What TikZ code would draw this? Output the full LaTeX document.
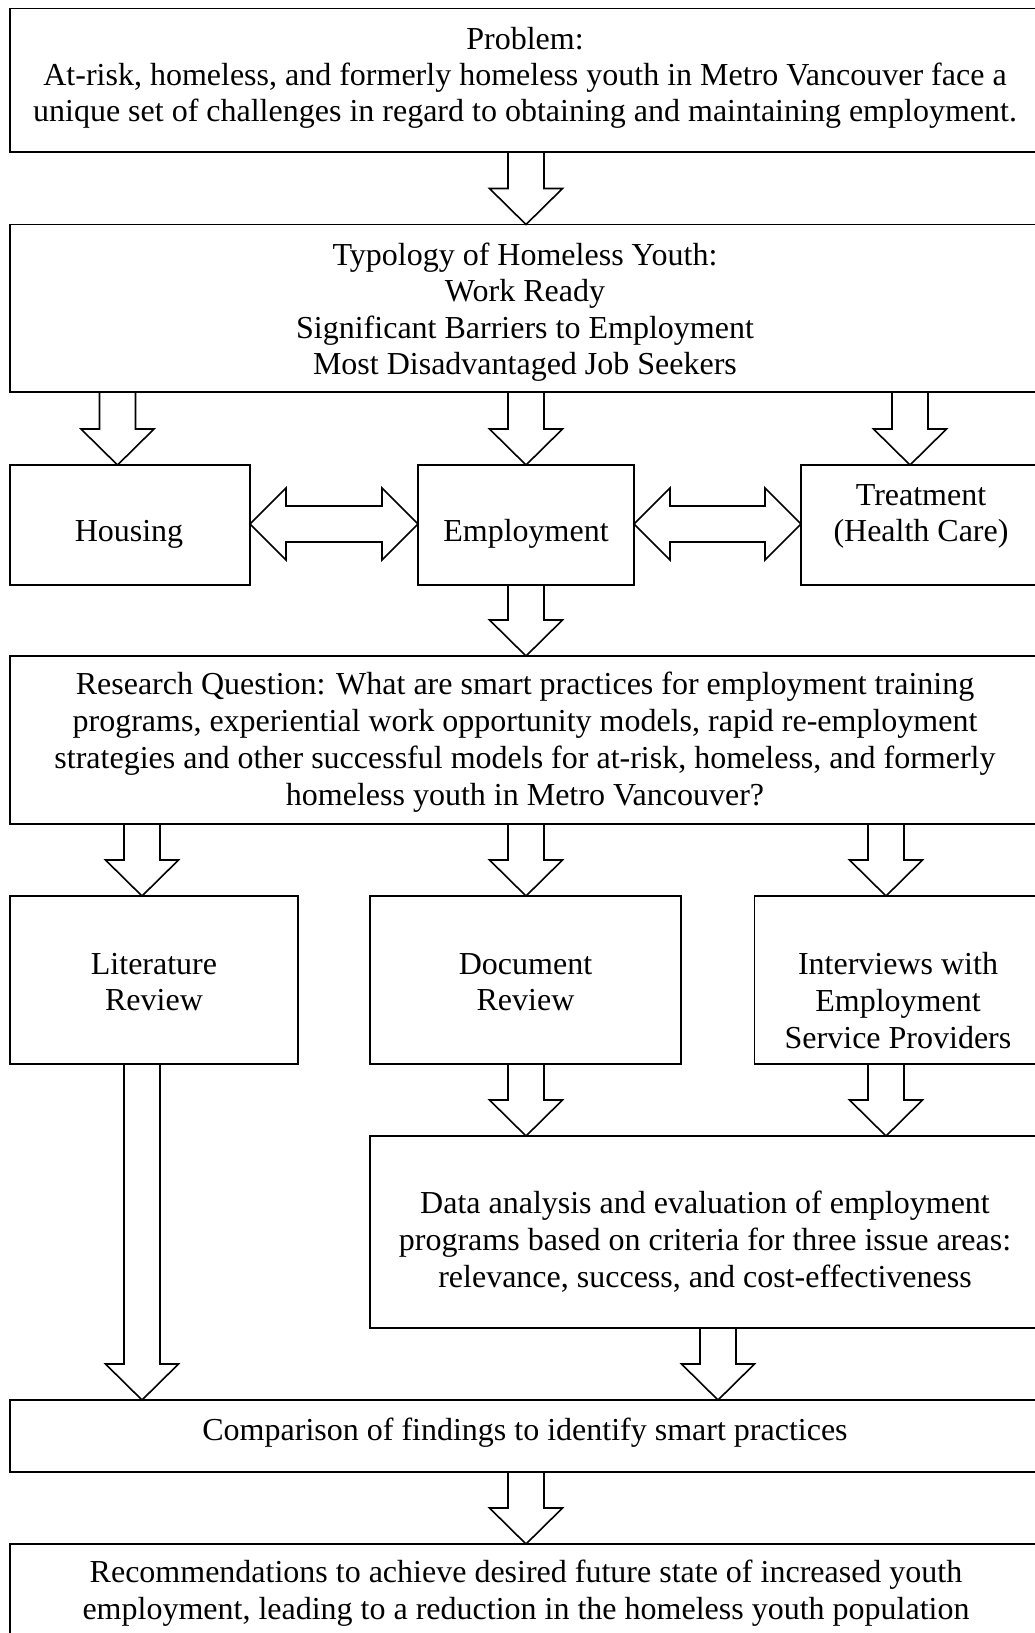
\documentclass[tikz,border=0pt]{standalone}
\usepackage{fontspec}
\setmainfont{Liberation Serif}
\usetikzlibrary{calc}
\tikzset{
  box/.style={draw=black, line width=1.6pt, inner sep=0pt, outer sep=0pt, anchor=north west},
  blk/.style={draw=black, line width=1.6pt, line join=miter},
  txt/.style={align=center, inner sep=0pt, anchor=north, yshift={0.7*#1*1pt},
              font=\fontsize{32}{#1}\selectfont},
  txt/.default=36.6
}
% box node: name, x1, y1, x2, y2 (pixel units)
\newcommand\boxnode[5]{\node[box, minimum width={(#4-#2)*1pt}, minimum height={(#5-#3)*1pt}] (#1) at (#2,#3) {};}
% downward block arrow: x, source node, target node
\newcommand\darr[3]{%
  \draw[blk] let \p1=(#1,0 |- #2.south), \p2=(#1,0 |- #3.north) in
    (\x1-18pt,\y1) -- (\x1-18pt,\y2+36pt) -- (\x1-36.5pt,\y2+36pt) -- (\x1,\y2)
    -- (\x1+36.5pt,\y2+36pt) -- (\x1+18pt,\y2+36pt) -- (\x1+18pt,\y1);}
% horizontal double block arrow: y, left node, right node
\newcommand\harr[3]{%
  \draw[blk] let \p1=(#2.east |- 0,#1), \p2=(#3.west |- 0,#1) in
    (\x1,\y1) -- (\x1+36pt,\y1+36pt) -- (\x1+36pt,\y1+18pt) -- (\x2-36pt,\y1+18pt)
    -- (\x2-36pt,\y1+36pt) -- (\x2,\y1) -- (\x2-36pt,\y1-36pt) -- (\x2-36pt,\y1-18pt)
    -- (\x1+36pt,\y1-18pt) -- (\x1+36pt,\y1-36pt) -- cycle;}
\begin{document}
\begin{tikzpicture}[x=1pt,y=-1pt]
\useasboundingbox (0,0) rectangle (1035,1633);
\clip (0,0) rectangle (1035,1633);
\fill[white] (0,0) rectangle (1035,1633);

% boxes
\boxnode{prob}{10}{8.5}{1040}{152}
\boxnode{typ}{10}{224.5}{1040}{392}
\boxnode{hous}{10}{465}{250}{585}
\boxnode{emp}{418}{465}{634}{585}
\boxnode{treat}{801}{465}{1041}{585}
\boxnode{rq}{10}{656}{1040}{824}
\boxnode{lit}{10}{896}{298}{1064}
\boxnode{doc}{370}{896}{681}{1064}
\boxnode{int}{754.5}{896}{1041}{1064}
\boxnode{data}{370}{1136}{1041}{1328}
\boxnode{comp}{10}{1400}{1040}{1472}
\boxnode{rec}{10}{1544}{1040}{1670}

% texts (positioned at the baseline of their first line)
\node[txt=36] (probt) at (525,49) {\strut Problem:\\At-risk, homeless, and formerly homeless youth in Metro Vancouver face a\\unique set of challenges in regard to obtaining and maintaining employment.};
\node[txt=36.4] (typt) at (525,265) {\strut Typology of Homeless Youth:\\Work Ready\\Significant Barriers to Employment\\Most Disadvantaged Job Seekers};
\node[txt] (houst) at (129,541.7) {\strut Housing};
\node[txt] (empt) at (526,541.7) {\strut Employment};
\node[txt] (treatt) at (921,505) {\strut Treatment\\(Health Care)};
\node[txt=37] (rqt) at (525,694.5) {\strut Research Question: What are smart practices for employment training\\programs, experiential work opportunity models, rapid re-employment\\strategies and other successful models for at-risk, homeless, and formerly\\homeless youth in Metro Vancouver?};
\node[txt] (litt) at (154,974) {\strut Literature\\Review};
\node[txt] (doct) at (525.5,974) {\strut Document\\Review};
\node[txt=36.9] (intt) at (898,974) {\strut Interviews with\\Employment\\Service Providers};
\node[txt=37.2] (datat) at (705,1213) {\strut Data analysis and evaluation of employment\\programs based on criteria for three issue areas:\\relevance, success, and cost-effectiveness};
\node[txt] (compt) at (525,1440.7) {\strut Comparison of findings to identify smart practices};
\node[txt] (rect) at (526,1582.7) {\strut Recommendations to achieve desired future state of increased youth\\employment, leading to a reduction in the homeless youth population};

% block arrows
\darr{526}{prob}{typ}
\darr{117.5}{typ}{hous}
\darr{526}{typ}{emp}
\darr{910}{typ}{treat}
\darr{526}{emp}{rq}
\darr{142}{rq}{lit}
\darr{526}{rq}{doc}
\darr{886}{rq}{int}
\darr{526}{doc}{data}
\darr{886}{int}{data}
\darr{142}{lit}{comp}
\darr{718}{data}{comp}
\darr{526}{comp}{rec}
\harr{524}{hous}{emp}
\harr{524}{emp}{treat}
\end{tikzpicture}
\end{document}
